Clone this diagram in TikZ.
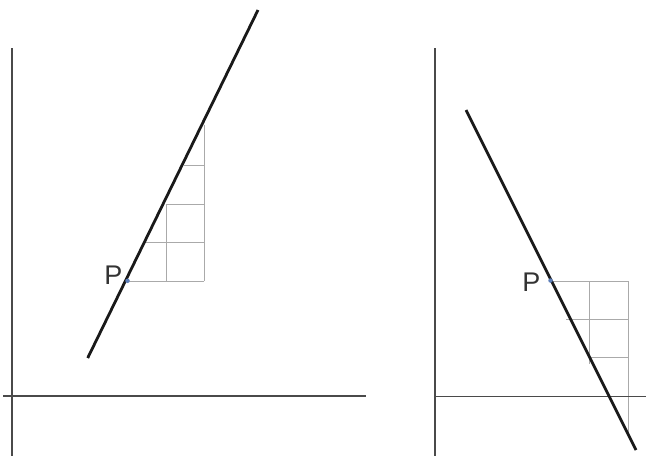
\documentclass[tikz,border=0pt]{standalone}
\usepackage{fontspec}
\setmainfont{Liberation Sans}
\usetikzlibrary{positioning}
\definecolor{axisgray}{HTML}{4A4A4A}
\definecolor{gridgray}{HTML}{AAAAAA}
\definecolor{ptblue}{HTML}{5B7DB8}

\begin{document}
\begin{tikzpicture}[x=1pt, y=-1pt,
  axis/.style={axisgray, line width=1.3pt},
  gridln/.style={gridgray, line width=0.9pt},
  slopeln/.style={black!90, line width=2.8pt},
  ptdot/.style={circle, fill=ptblue, inner sep=0pt, minimum size=4.5pt},
  ptlabel/.style={font=\fontsize{27}{27}\selectfont, text=black!80, inner sep=0pt, anchor=base east}]

% Frame
\useasboundingbox (0,0) rectangle (646,456);

% =========== LEFT PANEL: positive slope ===========
\coordinate (yL0) at (12,48);
\coordinate (yL1) at (12,456);
\coordinate (xL0) at (3,396);
\coordinate (xL1) at (366,396);

% Step grid (run 2, rise 4)
\draw[gridln] (127.7,281) -- (204,281);
\draw[gridln] (145,242.3) -- (204,242.3);
\draw[gridln] (166,204.3) -- (204,204.3);
\draw[gridln] (184,165.7) -- (204,165.7);
\draw[gridln] (166,281) -- (166,204.3);
\draw[gridln] (204,281) -- (204,125);

% Axes
\draw[axis] (yL0) -- (yL1);
\draw[axis] (xL0) -- (xL1);

% Line through P
\coordinate (aL) at (87.7,358);
\coordinate (bL) at (258,10);
\draw[slopeln] (aL) -- (bL);

\node[ptdot] (PL) at (127.5,280.8) {};
\node[ptlabel] (PLlbl) at ([xshift=-5pt, yshift=-3.6pt]PL.center) {P};

% =========== RIGHT PANEL: negative slope ===========
\coordinate (yR0) at (435,48);
\coordinate (yR1) at (435,456);
\coordinate (xR0) at (435,396);
\coordinate (xR1) at (646,396);

% Step grid (run 2, fall 4)
\draw[gridln] (551,281) -- (628,281);
\draw[gridln] (566,319.3) -- (628,319.3);
\draw[gridln] (589.3,357.7) -- (628,357.7);
\draw[gridln] (589.3,281) -- (589.3,364);
\draw[gridln] (628,281) -- (628,437);

% Axes
\draw[axis] (yR0) -- (yR1);
\draw[axis, line width=1pt] (xR0) -- (xR1);

% Line through P
\coordinate (aR) at (466,110);
\coordinate (bR) at (636,450);
\draw[slopeln] (aR) -- (bR);

\node[ptdot] (PR) at (550.5,280.5) {};
\node[ptlabel] (PRlbl) at ([xshift=-10pt, yshift=-10.5pt]PR.center) {P};

\end{tikzpicture}
\end{document}
